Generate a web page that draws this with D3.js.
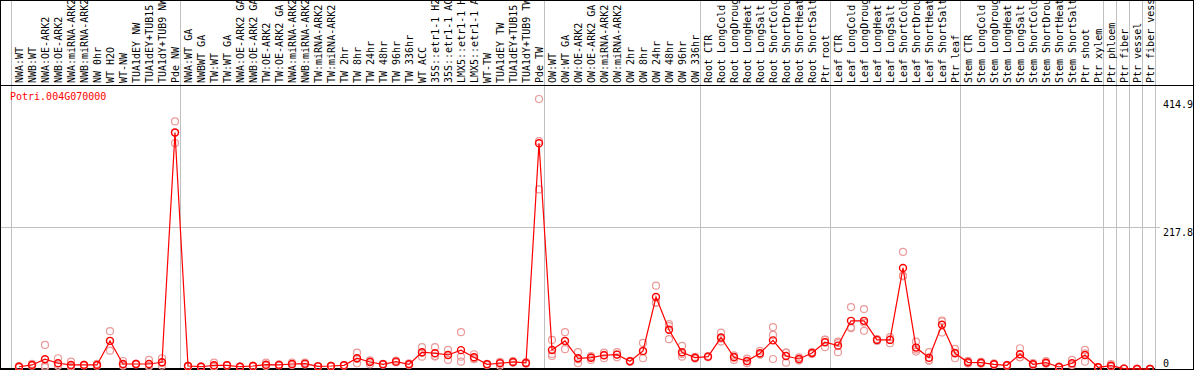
<!DOCTYPE html>
<html>
<head>
<meta charset="utf-8">
<script src="https://cdn.jsdelivr.net/npm/d3@7"></script>
<style>
  body { margin: 0; background: #fff; }
  text { font-family: "DejaVu Sans Mono", monospace; font-size: 10px; }
</style>
</head>
<body>
<div class="chart"></div>
<script>
const gene = "Potri.004G070000";

const samples = [
  "NWA:WT", "NWB:WT", "NWA:OE-ARK2", "NWB:OE-ARK2", "NWA:miRNA-ARK2", "NWB:miRNA-ARK2",
  "NW 0hr", "WT H2O", "WT-NW", "TUA1dEY NW", "TUA1dEY+TUB15 NW", "TUA1dY+TUB9 NW", "Pde NW",
  "NWA:WT GA", "NWBWT GA", "TW:WT", "TW:WT GA", "NWA:OE-ARK2 GA", "NWB:OE-ARK2 GA",
  "TW:OE-ARK2", "TW:OE-ARK2 GA", "NWA:miRNA-ARK2", "NWB:miRNA-ARK2", "TW:miRNA-ARK2",
  "TW:miRNA-ARK2", "TW 2hr", "TW 8hr", "TW 24hr", "TW 48hr", "TW 96hr", "TW 336hr", "WT ACC",
  "35S::etr1-1 H2O", "35S::etr1-1 ACC", "LMX5::etr1-1 H2O", "LMX5::etr1-1 ACC", "WT-TW",
  "TUA1dEY TW", "TUA1dEY+TUB15 TW", "TUA1dY+TUB9 TW", "Pde TW",
  "OW:WT", "OW:WT GA", "OW:OE-ARK2", "OW:OE-ARK2 GA", "OW:miRNA-ARK2", "OW:miRNA-ARK2",
  "OW 2hr", "OW 8hr", "OW 24hr", "OW 48hr", "OW 96hr", "OW 336hr",
  "Root CTR", "Root LongCold", "Root LongDrought", "Root LongHeat", "Root LongSalt",
  "Root ShortCold", "Root ShortDrought", "Root ShortHeat", "Root ShortSalt", "Ptr root",
  "Leaf CTR", "Leaf LongCold", "Leaf LongDrought", "Leaf LongHeat", "Leaf LongSalt",
  "Leaf ShortCold", "Leaf ShortDrought", "Leaf ShortHeat", "Leaf ShortSalt", "Ptr leaf",
  "Stem CTR", "Stem LongCold", "Stem LongDrought", "Stem LongHeat", "Stem LongSalt",
  "Stem ShortCold", "Stem ShortDrought", "Stem ShortHeat", "Stem ShortSalt", "Ptr shoot", "Ptr xylem",
  "Ptr phloem", "Ptr fiber", "Ptr vessel", "Ptr fiber vessel"
];

// index of the first sample of every group (plus the end)
const groupStarts = [0, 13, 41, 53, 63, 73, 84, 85, 86, 87, 88];

const means = [
  3.5, 6.2, 15.0, 8.8, 6.2, 6.2, 6.2, 43.2, 7.7, 7.7, 7.7, 10.3, 363.5,
  4.6, 3.5, 5.7, 5.7, 3.5, 4.6, 6.6, 6.2, 7.7, 8.2, 4.1, 4.6, 5.7, 16.5, 10.8, 7.2, 11.3, 7.2,
  25.8, 24.2, 21.6, 29.0, 18.0, 7.2, 8.8, 10.8, 9.3, 347.0,
  29.3, 43.2, 16.5, 17.4, 21.1, 22.1, 11.8, 27.8, 110.6, 60.2, 25.8, 17.4,
  19.0, 48.3, 18.0, 12.3, 24.2, 44.0, 20.0, 15.4, 24.7, 41.1,
  35.9, 74.0, 74.0, 44.7, 44.7, 155.3, 32.9, 17.4, 67.9, 24.2,
  10.3, 9.7, 7.2, 5.7, 22.7, 7.2, 9.7, 3.1, 8.8, 21.6, 2.6,
  5.1, 0.5, 0.1, 0.1
];

const rep1 = [
  3.5, 8.0, 37.0, 16.5, 11.3, 6.5, 8.0, 58.2, 12.3, 8.0, 13.9, 16.5, 380.5,
  4.0, 3.0, 9.7, 5.0, 3.0, 4.0, 9.7, 7.0, 10.0, 10.0, 4.0, 5.0, 6.0, 25.1, 12.0, 8.0, 13.0, 8.8,
  33.5, 33.5, 29.3, 56.6, 22.7, 8.0, 11.0, 12.0, 10.5, 414.9,
  44.7, 56.6, 25.8, 20.0, 25.1, 26.0, 12.5, 40.1, 128.0, 68.9, 35.5, 18.5,
  20.0, 56.0, 19.0, 16.0, 28.0, 64.3, 25.1, 18.0, 26.0, 44.7,
  42.1, 95.2, 92.1, 46.0, 49.0, 180.0, 42.1, 25.8, 74.5, 30.8,
  12.5, 11.0, 8.5, 6.5, 31.9, 9.0, 12.0, 3.5, 13.9, 29.3, 3.0,
  7.5, 0.6, 0.1, 0.1
];

const rep2 = [
  2.5, 5.0, 5.1, 5.0, 4.0, 5.5, 5.0, 28.2, 5.0, 7.0, 5.0, 5.1, 347.0,
  5.0, 4.0, 4.0, 6.0, 4.0, 5.0, 5.0, 6.0, 6.0, 7.0, 4.5, 4.0, 5.0, 8.8, 7.2, 6.5, 10.0, 6.0,
  19.0, 20.0, 13.9, 19.0, 15.0, 6.0, 5.0, 9.5, 8.0, 276.0,
  20.0, 30.4, 8.8, 14.0, 16.5, 18.0, 11.0, 16.5, 102.3, 45.8, 19.0, 16.0,
  18.0, 42.1, 14.0, 9.0, 22.0, 52.4, 9.7, 13.0, 23.0, 33.5,
  25.8, 62.8, 58.6, 43.0, 39.6, 142.4, 26.7, 12.8, 56.0, 16.5,
  8.5, 8.0, 6.5, 5.0, 18.0, 6.0, 8.0, 2.5, 6.0, 11.3, 2.0,
  3.5, 0.4, 0.1, 0.1
];

const rep3 = [
  4.5, 5.6, 3.0, 5.0, 3.4, 6.5, 5.6, 43.0, 5.8, 8.0, 4.2, 9.3, 363.0,
  4.8, 3.5, 3.4, 6.1, 3.5, 4.8, 5.1, 5.6, 7.1, 7.6, 3.8, 4.8, 6.1, 15.6, 13.2, 7.1, 10.9, 6.8,
  24.9, 19.1, 21.6, 11.3, 16.3, 7.6, 10.4, 10.9, 9.4, 350.1,
  23.2, 42.6, 14.9, 18.2, 21.7, 22.3, 11.9, 26.8, 101.5, 65.9, 22.9, 17.7,
  19.0, 46.8, 21.0, 11.9, 22.6, 15.4, 25.2, 15.2, 25.1, 45.1,
  39.8, 64.0, 71.3, 45.1, 45.5, 143.5, 29.9, 13.6, 73.2, 25.3,
  9.9, 10.1, 6.6, 5.6, 18.2, 6.6, 9.1, 3.3, 6.5, 24.2, 2.8,
  4.3, 0.5, 0.1, 0.1
];

const yTicks = [0, 217.8, 414.9];
const gridValues = [217.8];

const width = 1194;
const height = 370;
const headerBottom = 85;

const svg = d3.select('.chart')
    .append('svg')
    .attr('width', width)
    .attr('height', height);

const x = d3.scaleBand()
    .domain(d3.range(samples.length))
    .range([11, 1155])
    .paddingInner(0)
    .paddingOuter(0);

const cx = i => x(i) + 8;

const y = d3.scaleLinear()
    .domain([0, 414.9])
    .range([369, 99]);

// vertical group separators (span header and plot)
svg.selectAll(".vline")
    .data(groupStarts)
    .enter()
    .append("line")
    .attr("x1", d => (d < samples.length ? x(d) : x.range()[1]) + 0.5)
    .attr("x2", d => (d < samples.length ? x(d) : x.range()[1]) + 0.5)
    .attr("y1", 0)
    .attr("y2", height)
    .attr("stroke", "#c0c0c0")
    .attr("shape-rendering", "crispEdges");

// horizontal grid line
svg.selectAll(".hline")
    .data(gridValues)
    .enter()
    .append("line")
    .attr("x1", 0)
    .attr("x2", 1160)
    .attr("y1", d => Math.round(y(d)) + 0.5)
    .attr("y2", d => Math.round(y(d)) + 0.5)
    .attr("stroke", "#c0c0c0")
    .attr("shape-rendering", "crispEdges");

// sample labels, rotated
svg.selectAll(".label")
    .data(samples)
    .enter()
    .append("text")
    .attr("transform", (d, i) => `translate(${cx(i) + 4},83) rotate(-90)`)
    .attr("fill", "#000")
    .text(d => d);

// borders
svg.append("rect")
    .attr("x", 0.5).attr("y", 0.5)
    .attr("width", width - 1).attr("height", height - 1)
    .attr("fill", "none")
    .attr("stroke", "#000")
    .attr("shape-rendering", "crispEdges");
svg.append("line")
    .attr("x1", 0).attr("x2", width)
    .attr("y1", headerBottom + 0.5).attr("y2", headerBottom + 0.5)
    .attr("stroke", "#000")
    .attr("shape-rendering", "crispEdges");
svg.append("line")
    .attr("x1", 0).attr("x2", x.range()[1])
    .attr("y1", 368.5).attr("y2", 368.5)
    .attr("stroke", "#000")
    .attr("shape-rendering", "crispEdges");

// gene name
svg.append("text")
    .attr("x", 10)
    .attr("y", 100)
    .attr("fill", "red")
    .text(gene);

// right axis
const axis = d3.axisRight(y)
    .tickValues(yTicks)
    .tickSize(0)
    .tickPadding(0)
    .tickFormat(d => d === 0 ? "0" : d3.format(".1f")(d));

const ax = svg.append("g")
    .attr("transform", "translate(1163,0)")
    .call(axis);
ax.select(".domain").remove();
ax.selectAll("text")
    .attr("x", 0)
    .attr("dy", d => d === 0 ? "-0.25em" : "0.85em")
    .attr("fill", "#000")
    .style("font-family", '"DejaVu Sans Mono", monospace')
    .style("font-size", "10px");

// replicate points
const reps = [rep1, rep2, rep3];
reps.forEach(rep => {
  svg.append("g")
    .selectAll("circle")
    .data(rep)
    .enter()
    .append("circle")
    .attr("cx", (d, i) => cx(i))
    .attr("cy", d => y(d))
    .attr("r", 3.5)
    .attr("fill", "none")
    .attr("stroke", "#eb9a9a")
    .attr("stroke-width", 1.2);
});

// mean line
const line = d3.line()
    .x((d, i) => cx(i))
    .y(d => y(d));

svg.append("path")
    .datum(means)
    .attr("d", line)
    .attr("fill", "none")
    .attr("stroke", "red")
    .attr("stroke-width", 1.2);

svg.append("g")
    .selectAll("circle")
    .data(means)
    .enter()
    .append("circle")
    .attr("cx", (d, i) => cx(i))
    .attr("cy", d => y(d))
    .attr("r", 3.5)
    .attr("fill", "none")
    .attr("stroke", "red")
    .attr("stroke-width", 1.4);
</script>
</body>
</html>
